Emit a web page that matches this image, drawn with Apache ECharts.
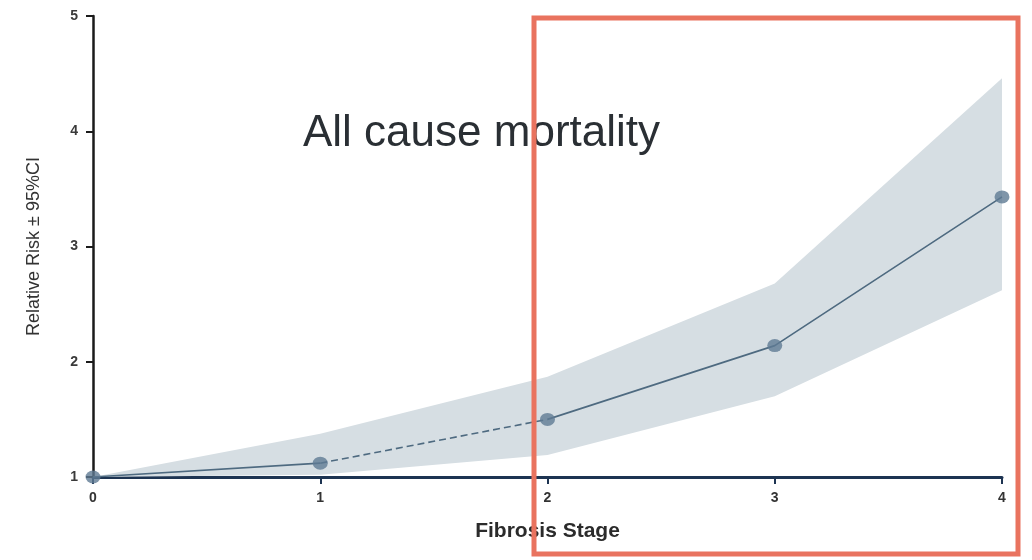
<!DOCTYPE html>
<html>
<head>
<meta charset="utf-8">
<script src="https://cdn.jsdelivr.net/npm/echarts@6/dist/echarts.min.js"></script>
<style>
html,body{margin:0;padding:0;background:#fff;}
#c{width:1032px;height:560px;}
</style>
</head>
<body>
<div id="c"></div>
<script>
const stages = ['0', '1', '2', '3', '4'];
const relativeRisk = [1.0, 1.12, 1.50, 2.14, 3.43];
const ciLower = [1.0, 1.02, 1.19, 1.70, 2.62];
const ciUpper = [1.0, 1.375, 1.87, 2.68, 4.46];
const yTicks = [1, 2, 3, 4, 5];

const FONT = "'Liberation Sans', Arial, sans-serif";
const ciWidth = ciUpper.map((u, i) => +(u - ciLower[i]).toFixed(4));
const seg = (from, to) => relativeRisk.map((v, i) => (i >= from && i <= to) ? v : '-');

const chart = echarts.init(document.getElementById('c'), null, {renderer: 'canvas'});
chart.setOption({
  animation: false,
  backgroundColor: '#ffffff',
  title: {
    text: 'All cause mortality',
    left: 298,
    top: 107,
    textStyle: {fontFamily: FONT, fontSize: 44, fontWeight: 'normal', color: '#2a2f34'}
  },
  grid: {left: 93, right: 30, top: 16, bottom: 83, containLabel: false},
  xAxis: {
    type: 'category',
    data: stages,
    boundaryGap: false,
    name: 'Fibrosis Stage',
    nameLocation: 'middle',
    nameGap: 44,
    nameTextStyle: {fontFamily: FONT, fontSize: 21, fontWeight: 'bold', color: '#2b2b2b'},
    axisLine: {lineStyle: {color: '#1d3452', width: 3}},
    axisTick: {show: true, alignWithLabel: true, length: 7, lineStyle: {color: '#1d3452', width: 2}},
    axisLabel: {fontFamily: FONT, fontSize: 14, fontWeight: 'bold', color: '#333', margin: 14},
    splitLine: {show: false}
  },
  yAxis: {
    type: 'value',
    min: yTicks[0],
    max: yTicks[yTicks.length - 1],
    interval: 1,
    name: 'Relative Risk \u00b1 95%CI',
    nameLocation: 'middle',
    nameRotate: 90,
    nameGap: 50,
    nameTextStyle: {fontFamily: FONT, fontSize: 18, color: '#333'},
    axisLine: {show: true, lineStyle: {color: '#1b1b1b', width: 2.5}},
    axisTick: {show: true, length: 7, lineStyle: {color: '#1b1b1b', width: 2}},
    axisLabel: {fontFamily: FONT, fontSize: 14, fontWeight: 'bold', color: '#3a3a3a', margin: 15},
    splitLine: {show: false}
  },
  series: [
    {
      name: 'lower', type: 'line', stack: 'ci', data: ciLower,
      symbol: 'none', lineStyle: {opacity: 0}, z: 1, silent: true
    },
    {
      name: 'band', type: 'line', stack: 'ci', data: ciWidth,
      symbol: 'none', lineStyle: {opacity: 0},
      areaStyle: {color: '#d6dee3', opacity: 1}, z: 1, silent: true
    },
    {
      type: 'line', data: seg(0, 1), symbol: 'none',
      lineStyle: {color: '#4e6a80', width: 1.6, type: 'solid'}, z: 3
    },
    {
      type: 'line', data: seg(1, 2), symbol: 'none',
      lineStyle: {color: '#4e6a80', width: 1.6, type: [7, 4]}, z: 3
    },
    {
      type: 'line', data: seg(2, 4), symbol: 'none',
      lineStyle: {color: '#4e6a80', width: 1.6, type: 'solid'}, z: 3
    },
    {
      type: 'scatter', data: relativeRisk, symbol: 'circle', symbolSize: [15, 13],
      itemStyle: {color: '#5f7b94'}, z: 4
    }
  ],
  graphic: [
    {
      type: 'rect', z: 100,
      shape: {x: 534, y: 18, width: 484, height: 536},
      style: {fill: 'none', stroke: '#e9735f', lineWidth: 5}
    }
  ]
});
</script>
</body>
</html>
